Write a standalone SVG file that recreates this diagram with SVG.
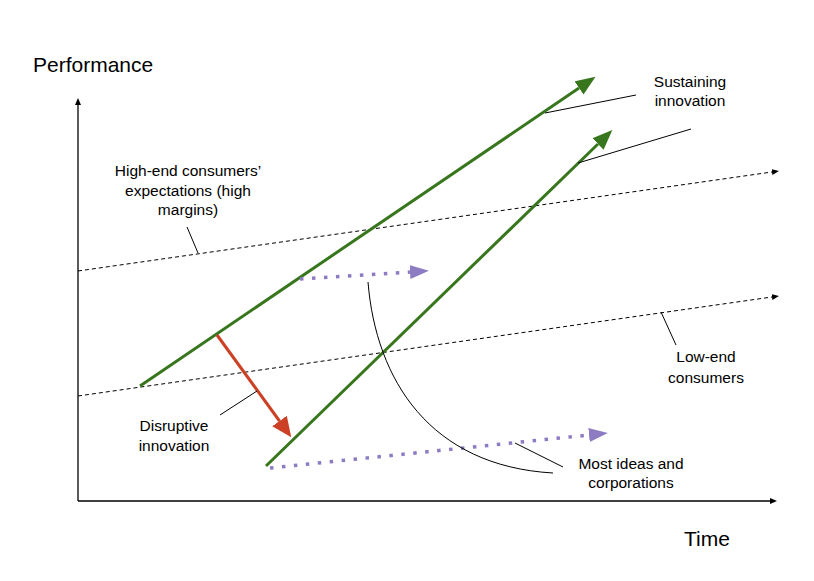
<svg xmlns="http://www.w3.org/2000/svg" width="814" height="581" viewBox="0 0 814 581">
<defs>
<style>
text{font-family:"Liberation Sans",Arial,sans-serif;fill:#000;}
.lbl{font-size:15.5px;text-anchor:middle;}
.ax{font-size:21px;}
.axis{stroke:#000;stroke-width:1.3;fill:none;}
.dash{stroke:#000;stroke-width:1;stroke-dasharray:4 3;fill:none;}
.green{stroke:#38761d;stroke-width:3;fill:none;}
.red{stroke:#cc4125;stroke-width:3;fill:none;}
.purple{stroke:#8e7cc3;stroke-width:3.5;stroke-dasharray:3.5 8.5;fill:none;}
.call{stroke:#000;stroke-width:1;fill:none;}
</style>
<marker id="mBlack" viewBox="0 0 7 6" refX="0" refY="3" markerWidth="7" markerHeight="6" markerUnits="userSpaceOnUse" orient="auto"><path d="M0,0 L7,3 L0,6 z" fill="#000"/></marker>
<marker id="mGreen" viewBox="0 0 20 16" refX="0" refY="8" markerWidth="20" markerHeight="16" markerUnits="userSpaceOnUse" orient="auto"><path d="M0,0 L20,8 L0,16 z" fill="#38761d"/></marker>
<marker id="mRed" viewBox="0 0 20 18" refX="0" refY="9" markerWidth="20" markerHeight="18" markerUnits="userSpaceOnUse" orient="auto"><path d="M0,0 L20,9 L0,18 z" fill="#cc4125"/></marker>
<marker id="mPurple" viewBox="0 0 19 14" refX="0" refY="7" markerWidth="19" markerHeight="14" markerUnits="userSpaceOnUse" orient="auto"><path d="M0,0 L19,7 L0,14 z" fill="#8e7cc3"/></marker>
</defs>
<rect width="814" height="581" fill="#fff"/>
<g id="connectors">
<path class="axis" d="M78,501 L78,105" marker-end="url(#mBlack)"/>
<path class="axis" d="M78,501 L770,501" marker-end="url(#mBlack)"/>
<path class="dash" d="M78,271 L772,172" marker-end="url(#mBlack)"/>
<path class="dash" d="M78,396 L772,297" marker-end="url(#mBlack)"/>
<path class="green" d="M140,386 L579,88" marker-end="url(#mGreen)"/>
<path class="green" d="M266,466 L598,144" marker-end="url(#mGreen)"/>
<path class="red" d="M217,335 L279.5,421" marker-end="url(#mRed)"/>
<path class="purple" d="M300,279 L410,272" marker-end="url(#mPurple)"/>
<path class="purple" d="M270,468 L589,435" marker-end="url(#mPurple)"/>
<path class="call" d="M545,113 L636,95"/>
<path class="call" d="M578,163 L691,129"/>
<path class="call" d="M187,227 L198,253"/>
<path class="call" d="M661,312 L676,345"/>
<path class="call" d="M220,415 L257,391"/>
<path class="call" d="M515,443 L563,467"/>
<path class="call" d="M368,282 C376,380 430,466 553,473"/>
</g>
<g id="performance"><text class="ax" x="33" y="72">Performance</text></g>
<g id="time"><text class="ax" x="684" y="546">Time</text></g>
<g id="sustaining"><text class="lbl" x="690" y="87">Sustaining</text><text class="lbl" x="690" y="106">innovation</text></g>
<g id="highend"><text class="lbl" x="188" y="176">High-end consumers’</text><text class="lbl" x="188" y="196">expectations (high</text><text class="lbl" x="188" y="215">margins)</text></g>
<g id="lowend"><text class="lbl" x="706" y="362">Low-end</text><text class="lbl" x="706" y="383">consumers</text></g>
<g id="disruptive"><text class="lbl" x="174" y="431">Disruptive</text><text class="lbl" x="174" y="451">innovation</text></g>
<g id="mostideas"><text class="lbl" x="631" y="469">Most ideas and</text><text class="lbl" x="631" y="488">corporations</text></g>
</svg>
